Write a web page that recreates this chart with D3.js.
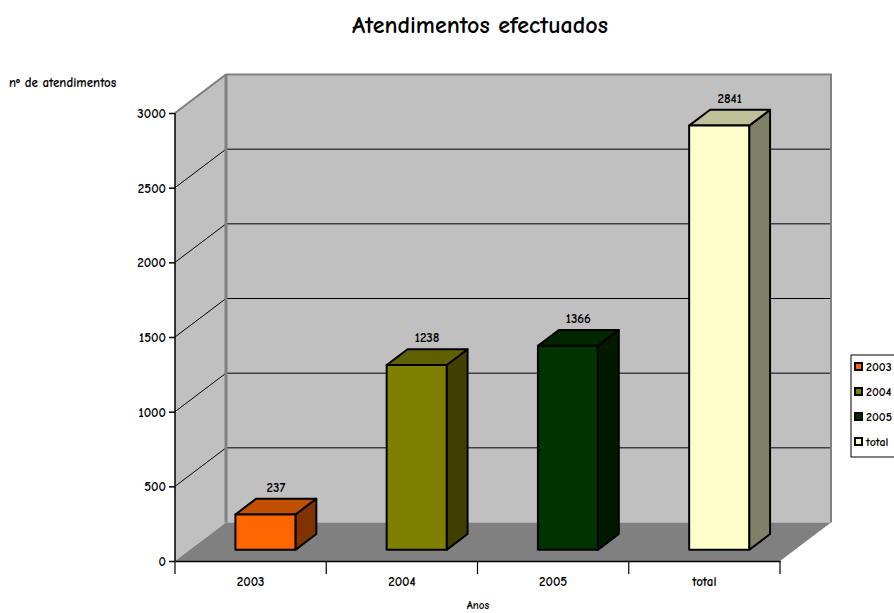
<!DOCTYPE html>
<html>
<head>
<meta charset="utf-8">
<script src="https://cdn.jsdelivr.net/npm/d3@7/dist/d3.min.js"></script>
<style>
  html, body { margin: 0; padding: 0; background: #fff; }
  svg { display: block; }
  text { font-family: "Comic Sans MS", "Comic Neue", "DejaVu Sans", sans-serif; font-weight: 700; fill: #000; }
</style>
</head>
<body>
<svg id="chart" width="894" height="613"></svg>
<script>
// Atendimentos por ano
const categories = ["2003", "2004", "2005", "total"];
const values = [237, 1238, 1366, 2841];
const yTicks = [0, 500, 1000, 1500, 2000, 2500, 3000];
const frontColors = ["#ff6600", "#808000", "#003300", "#ffffcc"];
const topColors = ["#c05000", "#606000", "#002600", "#c0c099"];
const sideColors = ["#803300", "#404000", "#001a00", "#808066"];

const svg = d3.select("#chart");

const W = { left: 175, right: 780, bottom: 561, top: 113 };
const DEPTH_X = 51, DEPTH_Y = 38.5;   // offset of the back plane
const BAR_Z0 = 0.29, BAR_Z1 = 0.70;   // bar depth range within the floor

const x = d3.scaleBand().domain(categories).range([W.left, W.right]).paddingInner(0).paddingOuter(0);
const y = d3.scaleLinear().domain([0, 3000]).range([W.bottom, W.top]);

// project a point (front-plane x, value, depth 0..1) to the screen
const P = (px, v, z) => [px + z * DEPTH_X, y(v) - z * DEPTH_Y];
const poly = pts => "M" + pts.map(p => p.join(",")).join("L") + "Z";

// back wall
svg.append("path")
  .attr("d", poly([P(W.left, 0, 1), P(W.right, 0, 1), P(W.right, 3000, 1), P(W.left, 3000, 1)]))
  .attr("fill", "#c0c0c0");
// left wall
svg.append("path")
  .attr("d", poly([P(W.left, 0, 0), P(W.left, 0, 1), P(W.left, 3000, 1), P(W.left, 3000, 0)]))
  .attr("fill", "#c0c0c0");

// gridlines on both walls
yTicks.filter(t => t > 0).forEach(t => {
  svg.append("path")
    .attr("d", "M" + P(W.left, t, 0) + "L" + P(W.left, t, 1) + "L" + P(W.right, t, 1))
    .attr("fill", "none").attr("stroke", "#000").attr("stroke-width", 1);
});

// wall borders
svg.append("path")
  .attr("d", "M" + P(W.left, 3000, 0) + "L" + P(W.left, 3000, 1) + "L" + P(W.right, 3000, 1) + "L" + P(W.right, 0, 1))
  .attr("fill", "none").attr("stroke", "#808080").attr("stroke-width", 2);
svg.append("line")
  .attr("x1", P(W.left, 0, 1)[0]).attr("y1", P(W.left, 0, 1)[1])
  .attr("x2", P(W.left, 3000, 1)[0]).attr("y2", P(W.left, 3000, 1)[1])
  .attr("stroke", "#808080").attr("stroke-width", 3);

// floor
svg.append("path")
  .attr("d", poly([P(W.left, 0, 0), P(W.right, 0, 0), P(W.right, 0, 1), P(W.left, 0, 1)]))
  .attr("fill", "#808080");

// bars
const barW = 60;
categories.forEach((c, i) => {
  const v = values[i];
  const cx = x(c) + x.bandwidth() / 2;
  const x0 = cx - barW / 2, x1 = cx + barW / 2;
  const g = svg.append("g").attr("stroke", "#000").attr("stroke-width", 2).attr("stroke-linejoin", "round");
  g.append("path")
    .attr("d", poly([P(x1, 0, BAR_Z0), P(x1, 0, BAR_Z1), P(x1, v, BAR_Z1), P(x1, v, BAR_Z0)]))
    .attr("fill", sideColors[i]);
  g.append("path")
    .attr("d", poly([P(x0, v, BAR_Z0), P(x1, v, BAR_Z0), P(x1, v, BAR_Z1), P(x0, v, BAR_Z1)]))
    .attr("fill", topColors[i]);
  g.append("path")
    .attr("d", poly([P(x0, 0, BAR_Z0), P(x1, 0, BAR_Z0), P(x1, v, BAR_Z0), P(x0, v, BAR_Z0)]))
    .attr("fill", frontColors[i]);
  const lp = P(cx, v, (BAR_Z0 + BAR_Z1) / 2);
  svg.append("text")
    .attr("x", lp[0]).attr("y", P(cx, v, BAR_Z1)[1] - 7)
    .attr("text-anchor", "middle").attr("font-size", 13)
    .text(v);
});

// value axis
const yAxis = svg.append("g").attr("transform", `translate(${W.left},0)`)
  .call(d3.axisLeft(y).tickValues(yTicks).tickSize(6).tickPadding(3).tickFormat(d3.format("d")));
yAxis.select(".domain").attr("stroke", "#000").attr("stroke-width", 1.5).attr("d", `M0,${W.top}V${W.bottom}`);
yAxis.selectAll(".tick line").attr("stroke", "#000").attr("stroke-width", 1.5);
yAxis.selectAll(".tick text").attr("font-size", 13).attr("font-family", null).attr("dy", "0.35em");

// category axis
const xAxis = svg.append("g").attr("transform", `translate(0,${W.bottom})`)
  .call(d3.axisBottom(x).tickSize(0).tickPadding(16));
xAxis.select(".domain").attr("stroke", "#000").attr("stroke-width", 1.5);
xAxis.selectAll(".tick text").attr("font-size", 13).attr("font-family", null);
const edges = categories.map(c => x(c)).concat([W.right]);
svg.append("g").selectAll("line").data(edges).join("line")
  .attr("x1", d => d).attr("x2", d => d)
  .attr("y1", W.bottom).attr("y2", W.bottom + 13)
  .attr("stroke", "#000").attr("stroke-width", 1.2);

// titles
svg.append("text").attr("x", 480).attr("y", 33).attr("text-anchor", "middle")
  .attr("font-size", 24).text("Atendimentos efectuados");
svg.append("text").attr("x", 9).attr("y", 87).attr("font-size", 13).text("nº de atendimentos");
svg.append("text").attr("x", 478).attr("y", 609).attr("text-anchor", "middle")
  .attr("font-size", 11).text("Anos");

// legend
const lg = svg.append("g").attr("transform", "translate(851,355)");
lg.append("rect").attr("width", 60).attr("height", 102)
  .attr("fill", "#fff").attr("stroke", "#000").attr("stroke-width", 1);
categories.forEach((c, i) => {
  const ly = 12 + i * 25;
  lg.append("rect").attr("x", 4).attr("y", ly - 4).attr("width", 7).attr("height", 7)
    .attr("fill", frontColors[i]).attr("stroke", "#000").attr("stroke-width", 2);
  lg.append("text").attr("x", 15).attr("y", ly + 4).attr("font-size", 12).text(c);
});
</script>
</body>
</html>
